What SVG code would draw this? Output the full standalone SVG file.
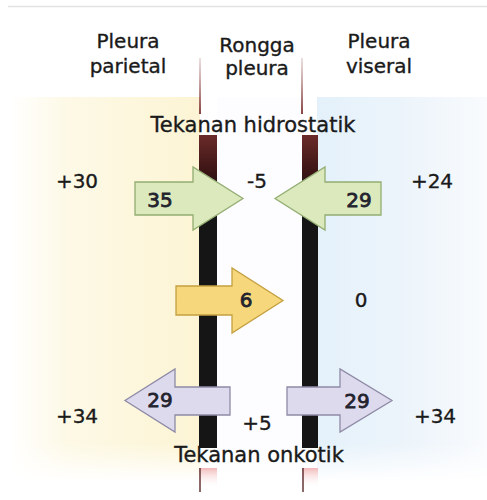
<svg xmlns="http://www.w3.org/2000/svg" width="487" height="500" viewBox="0 0 487 500">
  <defs>
    <linearGradient id="gLeft" x1="0" y1="0" x2="1" y2="0">
      <stop offset="0" stop-color="#ffffff"/>
      <stop offset="0.3" stop-color="#fdf9e6"/>
      <stop offset="1" stop-color="#fcf4d4"/>
    </linearGradient>
    <linearGradient id="gRight" x1="0" y1="0" x2="1" y2="0">
      <stop offset="0" stop-color="#e4f1fa"/>
      <stop offset="0.6" stop-color="#eef5fb"/>
      <stop offset="1" stop-color="#f9fbfd"/>
    </linearGradient>
    <linearGradient id="gFade" x1="0" y1="0" x2="0" y2="1">
      <stop offset="0" stop-color="#fff" stop-opacity="1"/>
      <stop offset="0.9" stop-color="#fff" stop-opacity="1"/>
      <stop offset="1" stop-color="#fff" stop-opacity="0"/>
    </linearGradient>
    <mask id="mFade">
      <rect x="0" y="97" width="487" height="385" fill="url(#gFade)"/>
    </mask>
    <linearGradient id="gBar" x1="0" y1="0" x2="0" y2="1">
      <stop offset="0" stop-color="#6b2a2a"/>
      <stop offset="0.12" stop-color="#3a1414"/>
      <stop offset="0.2" stop-color="#151515"/>
      <stop offset="1" stop-color="#151515"/>
    </linearGradient>
    <linearGradient id="gThin" x1="0" y1="0" x2="0" y2="1">
      <stop offset="0" stop-color="#a06060" stop-opacity="0.2"/>
      <stop offset="1" stop-color="#7a2f2f" stop-opacity="0.9"/>
    </linearGradient>
    <linearGradient id="gBot" x1="0" y1="0" x2="0" y2="1">
      <stop offset="0" stop-color="#f2b8b8"/>
      <stop offset="1" stop-color="#ffffff" stop-opacity="0"/>
    </linearGradient>
    <style>
      .lbl{font-family:"DejaVu Sans","Liberation Sans",sans-serif;font-size:20px;fill:#1a1a1a;stroke:#1a1a1a;stroke-width:0.35;text-anchor:middle}
      .big{font-size:21px}
      .num{font-family:"DejaVu Sans","Liberation Sans",sans-serif;font-size:20px;fill:#1a1a1a;stroke:#1a1a1a;stroke-width:0.35;text-anchor:middle}
      .in{fill:#23232e;stroke:#23232e;stroke-width:0.8}
      .green{fill:#dbe9bd;stroke:#93ad72;stroke-width:1.3}
      .yellow{fill:#f6d77c;stroke:#c4a040;stroke-width:1.3}
      .purple{fill:#dedaee;stroke:#8e8aa6;stroke-width:1.3}
    </style>
  </defs>

  <rect width="487" height="500" fill="#ffffff"/>
  <line x1="8" y1="6.5" x2="487" y2="6.5" stroke="#e2e2e2" stroke-width="1.5"/>

  <g id="background" mask="url(#mFade)">
    <rect x="10" y="97" width="190" height="385" fill="url(#gLeft)"/>
    <rect x="217" y="97" width="85" height="385" fill="#fdfdff"/>
    <rect x="317" y="97" width="170" height="385" fill="url(#gRight)"/>
  </g>

  <g id="membrane-parietal">
    <rect x="199" y="58" width="2" height="56" fill="url(#gThin)"/>
    <rect x="199" y="135" width="18" height="313" fill="url(#gBar)"/>
    <rect x="199" y="468" width="18" height="20" fill="url(#gBot)"/>
    <rect x="199" y="468" width="2" height="24" fill="#5a2a2a" opacity="0.7"/>
  </g>
  <g id="membrane-visceral">
    <rect x="301" y="58" width="2" height="56" fill="url(#gThin)"/>
    <rect x="302" y="135" width="16" height="313" fill="url(#gBar)"/>
    <rect x="302" y="468" width="16" height="20" fill="url(#gBot)"/>
    <rect x="302" y="468" width="2" height="24" fill="#5a2a2a" opacity="0.7"/>
  </g>

  <g id="headers">
    <text class="lbl" x="128" y="48">Pleura</text>
    <text class="lbl" x="128" y="73">parietal</text>
    <text class="lbl" x="257" y="52">Rongga</text>
    <text class="lbl" x="257" y="75">pleura</text>
    <text class="lbl" x="379" y="48">Pleura</text>
    <text class="lbl" x="379" y="73">viseral</text>
  </g>

  <text id="hidrostatik" class="lbl big" x="253" y="132">Tekanan hidrostatik</text>
  <text id="onkotik" class="lbl big" x="259" y="462">Tekanan onkotik</text>

  <g id="values">
    <text class="num" x="77" y="188">+30</text>
    <text class="num" x="257" y="188">-5</text>
    <text class="num" x="432" y="188">+24</text>
    <text class="num" x="361" y="307">0</text>
    <text class="num" x="77" y="423">+34</text>
    <text class="num" x="257" y="430">+5</text>
    <text class="num" x="435" y="423">+34</text>
  </g>

  <g id="connectors">
    <g id="arrow-hydro-left">
      <polygon class="green" points="135,182 193,182 193,167 243,198.5 193,230 193,215 135,215"/>
      <text class="num in" x="160" y="207">35</text>
    </g>
    <g id="arrow-hydro-right">
      <polygon class="green" points="381,182 325,182 325,167 275,198.5 325,230 325,215 381,215"/>
      <text class="num in" x="359" y="207">29</text>
    </g>
    <g id="arrow-net">
      <polygon class="yellow" points="176,286 232,286 232,268 283,300.5 232,333 232,315 176,315"/>
      <text class="num in" x="246" y="307">6</text>
    </g>
    <g id="arrow-onco-left">
      <polygon class="purple" points="230,387 175,387 175,369 125,400.5 175,432 175,415 230,415"/>
      <text class="num in" x="160" y="407">29</text>
    </g>
    <g id="arrow-onco-right">
      <polygon class="purple" points="287,387 340,387 340,369 392,400.5 340,432 340,415 287,415"/>
      <text class="num in" x="357" y="408">29</text>
    </g>
  </g>
</svg>
